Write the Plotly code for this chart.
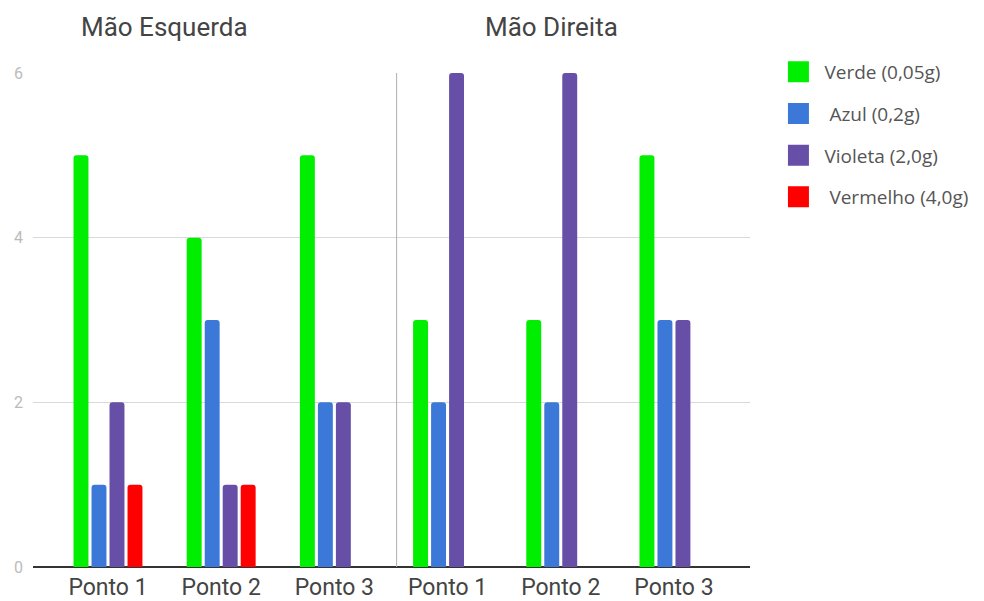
import numpy as np
import plotly.graph_objects as go

categories = ["Ponto 1", "Ponto 2", "Ponto 3", "Ponto 1", "Ponto 2", "Ponto 3"]
group_titles = ["Mão Esquerda", "Mão Direita"]
series_names = ["Verde (0,05g)", " Azul (0,2g)", "Violeta (2,0g)", " Vermelho (4,0g)"]
verde = [5, 4, 5, 3, 3, 5]
azul = [1, 3, 2, 2, 2, 3]
violeta = [2, 1, 2, 6, 6, 3]
vermelho = [1, 1, 0, 0, 0, 0]
y_ticks = [0, 2, 4, 6]

colors = ["#00ee00", "#3c78d8", "#674ea7", "#ff0000"]
series = [verde, azul, violeta, vermelho]
xpos = np.arange(len(categories))

fig = go.Figure()
for name, vals, col in zip(series_names, series, colors):
    fig.add_trace(go.Bar(x=xpos, y=vals, name=name, marker_color=col,
                         marker_line_width=0, showlegend=False))
for i, (name, col) in enumerate(zip(series_names, colors)):
    fig.add_trace(go.Scatter(x=[None], y=[None], mode="markers", name=name,
                             legendgroup=str(i),
                             marker=dict(symbol="square", size=20, color=col,
                                         line=dict(color=col, width=5))))

fig.add_shape(type="line", xref="x", yref="paper", x0=2.55, x1=2.55, y0=0, y1=1,
              line=dict(color="#b0b0b0", width=1))

for t, xp in zip(group_titles, [0.183, 0.723]):
    fig.add_annotation(text=t, xref="paper", yref="paper", x=xp, y=1.0, yshift=46,
                       showarrow=False, xanchor="center", yanchor="middle",
                       font=dict(family="Roboto", size=26, color="#444444"))

fig.update_layout(
    width=984, height=601,
    margin=dict(l=33, r=234, t=73, b=34, autoexpand=False),
    paper_bgcolor="white", plot_bgcolor="white",
    barmode="group", bargap=0.364, bargroupgap=0.17, barcornerradius=3,
    font=dict(family="Roboto", color="#444444"),
    legend=dict(xref="container", yref="container", x=0.785, y=0.912,
                xanchor="left", yanchor="top",
                font=dict(family="Open Sans", size=19, color="#555555"),
                tracegroupgap=14, itemsizing="trace", itemwidth=42,
                borderwidth=0),
)
fig.update_xaxes(range=[-0.6625, 5.672], tickvals=xpos, ticktext=categories,
                 showgrid=False, zeroline=False, showline=False, ticks="",
                 automargin=False, ticklabelstandoff=4,
                 tickfont=dict(family="Roboto", size=23, color="#444444"))
fig.update_yaxes(range=[0, 6], tickvals=y_ticks, showgrid=True, gridcolor="#d9d9d9",
                 gridwidth=1, zeroline=True, zerolinecolor="#333333", zerolinewidth=2,
                 ticks="", automargin=False, ticklabelstandoff=9,
                 tickfont=dict(family="Roboto", size=16, color="#bbbbbb"))

fig.write_html("out.html")
